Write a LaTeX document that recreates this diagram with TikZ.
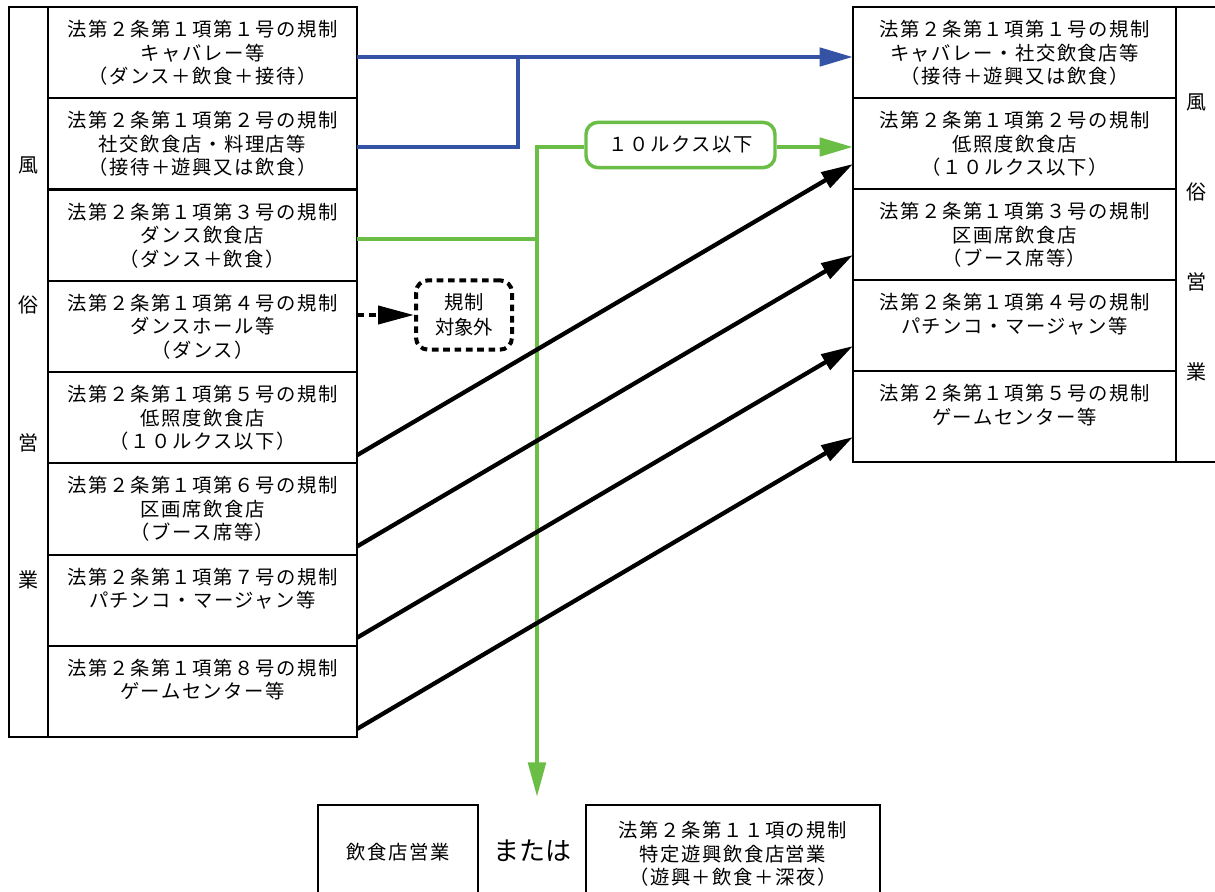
\documentclass[tikz,border=0pt]{standalone}
\usepackage{fontspec}
\newfontfamily\jp{Noto Sans CJK JP}[LetterSpace=8]
\newfontfamily\jpn{Noto Sans CJK JP}
\usetikzlibrary{arrows.meta,calc}
\definecolor{myblue}{HTML}{3553A4}
\definecolor{mygreen}{HTML}{6ABD45}
\begin{document}
\begin{tikzpicture}[x=0.75pt,y=-0.75pt,
  box/.style={draw,line width=1.5pt,inner sep=0pt,outer sep=0pt},
  txt/.style={font=\jp\fontsize{14.5}{17.6}\selectfont,align=center,inner sep=0pt},
  vlab/.style={font=\jpn\fontsize{15}{17}\selectfont,inner sep=0pt},
  bluecon/.style={draw=myblue,line width=3.5pt},
  greencon/.style={draw=mygreen,line width=3.4pt},
  blackcon/.style={draw=black,line width=3.2pt},
  tri/.style={-{Triangle[length=25pt,width=13.5pt]}},
  tris/.style={-{Triangle[length=24pt,width=13pt]}}]
\useasboundingbox (0,0) rectangle (1215,892);
% left column
\node[box,minimum width=261pt,minimum height=547.5pt] (Lout) at (183,372) {};
\foreach \k/\t in {
 1/{法第２条第１項第１号の規制\\キャバレー等\\（ダンス＋飲食＋接待）},
 2/{法第２条第１項第２号の規制\\社交飲食店・料理店等\\（接待＋遊興又は飲食）},
 3/{法第２条第１項第３号の規制\\ダンス飲食店\\（ダンス＋飲食）},
 4/{法第２条第１項第４号の規制\\ダンスホール等\\（ダンス）},
 5/{法第２条第１項第５号の規制\\低照度飲食店\\（１０ルクス以下）},
 6/{法第２条第１項第６号の規制\\区画席飲食店\\（ブース席等）},
 7/{法第２条第１項第７号の規制\\パチンコ・マージャン等},
 8/{法第２条第１項第８号の規制\\ゲームセンター等}}{
  \pgfmathsetmacro\yc{7+91.25*(\k-0.5)}
  \node[box,minimum width=231.75pt,minimum height=68.44pt] (L\k) at (202.5,\yc) {};
  \node[txt,anchor=north] (Lt\k) at ($(L\k.north)+(0,13)$) {\t};
}
\node[vlab] (lv1) at (28,165) {風};
\node[vlab] (lv2) at (28,305) {俗};
\node[vlab] (lv3) at (28,443) {営};
\node[vlab] (lv4) at (28,580) {業};
% right column
\node[box,minimum width=273pt,minimum height=341.25pt] (Rout) at (1035,234.5) {};
\foreach \k/\t in {
 1/{法第２条第１項第１号の規制\\キャバレー・社交飲食店等\\（接待＋遊興又は飲食）},
 2/{法第２条第１項第２号の規制\\低照度飲食店\\（１０ルクス以下）},
 3/{法第２条第１項第３号の規制\\区画席飲食店\\（ブース席等）},
 4/{法第２条第１項第４号の規制\\パチンコ・マージャン等},
 5/{法第２条第１項第５号の規制\\ゲームセンター等}}{
  \pgfmathsetmacro\yc{7+91*(\k-0.5)}
  \node[box,minimum width=242.25pt,minimum height=68.25pt] (R\k) at (1014.5,\yc) {};
  \node[txt,anchor=north] (Rt\k) at ($(R\k.north)+(0,13)$) {\t};
}
\node[vlab] (rv1) at (1196,102) {風};
\node[vlab] (rv2) at (1196,192) {俗};
\node[vlab] (rv3) at (1196,282) {営};
\node[vlab] (rv4) at (1196,372) {業};
% bottom
\node[box,minimum width=120pt,minimum height=75pt] (E1) at (398,855) {};
\node[txt] (Et1) at (398,852) {飲食店営業};
\node[font=\jpn\fontsize{19.5}{22}\selectfont,inner sep=0pt] (or) at (532,851) {または};
\node[box,minimum width=220.5pt,minimum height=75pt] (E2) at (733,855) {};
\node[txt,anchor=north] (Et2) at (733,821) {法第２条第１１項の規制\\特定遊興飲食店営業\\（遊興＋飲食＋深夜）};
% middle labels
\node[draw=mygreen,line width=2.6pt,rounded corners=9pt,minimum width=141.75pt,minimum height=34pt,inner sep=0pt,
      font=\jp\fontsize{14.5}{17}\selectfont] (lux) at (680.5,145) {１０ルクス以下};
\node[draw,line width=3pt,dash pattern=on 5pt off 3.5pt,rounded corners=9pt,minimum width=72pt,minimum height=52pt,
      inner sep=0pt,align=center,font=\jpn\fontsize{14.5}{18.5}\selectfont] (ex) at (464,315) {規制\\対象外};
% coordinates
\coordinate (b1) at (518,57);
\coordinate (b2) at (518,147);
\coordinate (g1) at (537,239);
\coordinate (g2) at (537,147);
\coordinate (gend) at (537,797);
\coordinate (d) at (0,315);
% blue
\draw[bluecon,tri] (L1.east |- b1) -- (R1.west |- b1);
\draw[bluecon] (L2.east |- b2) -- (b2) -- (b1);
% green
\draw[greencon] (L3.east |- g1) -- (g1);
\draw[greencon,-{Triangle[length=26pt,width=13pt]}] ([yshift=1.3pt]g2) -- (gend);
\draw[greencon] ([xshift=-1.3pt]g2) -- (g2 -| lux.west);
\draw[greencon,tri] (lux.east |- g2) -- (R2.west |- g2);
% dotted
\draw[line width=3pt,dash pattern=on 5pt off 4pt,-{Triangle[length=27pt,width=13.5pt]}] (L4.east |- d) -- (ex.west |- d);
% black
\draw[blackcon,tris] ($(L5.south east)+(0,-8)$) -- ($(R2.south west)+(0,-25)$);
\draw[blackcon,tris] ($(L6.south east)+(0,-8)$) -- ($(R3.south west)+(0,-25)$);
\draw[blackcon,tris] ($(L7.south east)+(0,-8)$) -- ($(R4.south west)+(0,-25)$);
\draw[blackcon,tris] ($(L8.south east)+(0,-8)$) -- ($(R5.south west)+(0,-25)$);
\end{tikzpicture}
\end{document}
